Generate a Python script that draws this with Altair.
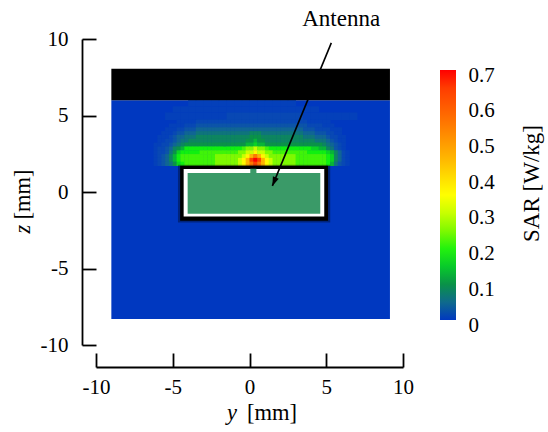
import altair as alt
import pandas as pd

# ---------------- data ----------------
Y_TICKS = [-10, -5, 0, 5, 10]
Z_TICKS = [-10, -5, 0, 5, 10]
SAR_TICKS = [0, 0.1, 0.2, 0.3, 0.4, 0.5, 0.6, 0.7]
SAR_RANGE = [0, 0.7]

SAR_STOPS = [0.0, 0.02, 0.04, 0.07, 0.10, 0.14, 0.19, 0.24, 0.30, 0.35,
             0.45, 0.55, 0.65, 0.672, 0.68, 0.70]
SAR_COLORS = ["#0038c0", "#0848b4", "#10609c", "#0e7e6c", "#0a9248", "#06c030",
              "#10f010", "#70f800", "#c8ff00", "#ffff00", "#ffb800", "#ff7800",
              "#ff3c00", "#ff3000", "#ff0000", "#ff0000"]

LEVEL_CODES = "0123456789abcdefghi"
LEVEL_VALUES = [0.0, 0.01, 0.02, 0.03, 0.045, 0.06, 0.08, 0.10, 0.13, 0.16,
                0.19, 0.215, 0.25, 0.30, 0.36, 0.46, 0.55, 0.64, 0.70]

FIELD_Y = [-9.0, 9.15]
FIELD_Z = [-8.3, 6.0]
FIELD_SAR = 0.0

# coarse haze just under the dark layer (0.5 mm columns from y = -9)
HALO_Y_START = -9.0
HALO_STEP_Y = 0.5
HALO_Z_EDGES = [6.0, 5.6, 5.2, 4.7]
HALO_ROWS = [
    "0000000000" "11" "1111111111" "11" "000000000000",
    "00000000" "111" "1111111111111" "111" "000000000",
    "0000000" "1111" "1111" "2222222222" "1111" "111" "0000",
]

# fine grid of the hot band (0.25 mm cells from y = -6.5, z = 1.7 upward)
FINE_Y_START = -6.5
FINE_STEP_Y = 0.25
FINE_Z_START = 1.7
FINE_STEP_Z = 0.25
CELL_OVERLAP = 0.03
FINE_ROWS = [  # top row first
    "000000" "0111" "11222222" "2222222222222222222" "22221111" "1100" "00000",
    "000001" "1112" "22333333" "3333333333333333333" "33332222" "1110" "00000",
    "000011" "1223" "33444444" "4444444444444444444" "44433322" "2211" "10000",
    "000111" "2334" "44555555" "5555555566655555555" "55544433" "3221" "10000",
    "001112" "3445" "55666666" "6666666677766666666" "66655544" "4322" "11000",
    "001122" "3455" "66666666" "6666666778776666666" "66666655" "5432" "11000",
    "011223" "4567" "77777777" "777777788988777777 ".strip() + "7" "77777777" "6543" "21000",
    "012234" "678a" "aaaaaaaa" "aaaaaabccdccbaaaaaa" "aaaaa998" "8653" "21000",
    "012235" "79aa" "aaabbbbb" "bbbbbccddeddccbbbbb" "bbbbaaaa" "a986" "42100",
    "012346" "8abb" "bbbbbbbc" "ccccccdefgfedcccccc" "cbbbbbbb" "ba96" "42100",
    "012346" "8abb" "bbbbbbbc" "cccccdefhihfedccccc" "cbbbbbbb" "ba96" "42100",
    "012345" "79ab" "bbbbbbbc" "cccccdefghgfedccccc" "cbbbbbbb" "ba85" "32100",
]

# geometry of the black layer and the antenna (mm)
SHAPE_NAMES = ["skin", "shadow", "outer", "white", "fill", "feed"]
SHAPE_Y0 = [-9.0, -4.66, -4.52, -4.29, -4.03, 0.05]
SHAPE_Y1 = [9.15, 5.26, 5.12, 4.87, 4.61, 0.45]
SHAPE_Z0 = [6.0, -2.0, -1.88, -1.60, -1.42, 1.20]
SHAPE_Z1 = [8.05, 1.78, 1.71, 1.50, 1.24, 1.52]
SHAPE_COLORS = ["#000000", "#000000", "#000000", "#ffffff", "#3a9a68", "#3a9a68"]
SHAPE_OPACITY = [1.0, 0.35, 1.0, 1.0, 1.0, 1.0]

ARROW_Y = [5.33, 1.49]
ARROW_Z = [9.75, 0.40]
ANNOT_TEXT = ["Antenna"]
ANNOT_Y = [5.97]
ANNOT_Z = [10.82]

# ---------------- tables ----------------
def code_value(ch):
    return LEVEL_VALUES[LEVEL_CODES.index(ch)]


cells = [dict(ya=FIELD_Y[0], yb=FIELD_Y[1], za=FIELD_Z[0], zb=FIELD_Z[1], sar=FIELD_SAR)]
for r, line in enumerate(HALO_ROWS):
    z_top, z_bot = HALO_Z_EDGES[r], HALO_Z_EDGES[r + 1]
    for c, ch in enumerate(line):
        if ch == "0":
            continue
        y0 = HALO_Y_START + HALO_STEP_Y * c
        cells.append(dict(ya=y0, yb=y0 + HALO_STEP_Y + CELL_OVERLAP, za=z_bot,
                          zb=z_top, sar=code_value(ch)))
n_fine = len(FINE_ROWS)
for r, line in enumerate(FINE_ROWS):
    z_bot = FINE_Z_START + FINE_STEP_Z * (n_fine - 1 - r)
    for c, ch in enumerate(line):
        if ch == "0":
            continue
        y0 = FINE_Y_START + FINE_STEP_Y * c
        cells.append(dict(ya=y0, yb=y0 + FINE_STEP_Y + CELL_OVERLAP, za=z_bot,
                          zb=z_bot + FINE_STEP_Z + CELL_OVERLAP, sar=code_value(ch)))
field_df = pd.DataFrame(cells)

shapes_df = pd.DataFrame(dict(name=SHAPE_NAMES, ya=SHAPE_Y0, yb=SHAPE_Y1, za=SHAPE_Z0,
                              zb=SHAPE_Z1, col=SHAPE_COLORS, op=SHAPE_OPACITY))
arrow_df = pd.DataFrame(dict(ya=[ARROW_Y[0]], yb=[ARROW_Y[1]], za=[ARROW_Z[0]], zb=[ARROW_Z[1]]))
annot_df = pd.DataFrame(dict(t=ANNOT_TEXT, ya=ANNOT_Y, za=ANNOT_Z))
cbar_df = pd.DataFrame(dict(v=SAR_TICKS))

# ---------------- chart ----------------
FONT = "'Liberation Serif', 'Times New Roman', serif"
FS = 21
TITLE_FS = 22.5
x_scale = alt.Scale(domain=[-10, 10], nice=False, zero=False)
z_scale = alt.Scale(domain=[-10, 10], nice=False, zero=False)

x_axis = alt.Axis(values=Y_TICKS, offset=22, tickSize=alt.ExprRef(expr="-14"),
                  labelPadding=23, labelFlush=False, grid=False, title=None,
                  domainColor="black", tickColor="black", domainWidth=1.8, tickWidth=1.8,
                  labelFont=FONT, labelFontSize=FS, labelColor="black",
                  labelExpr="'' + datum.value")
z_axis = alt.Axis(values=Z_TICKS, offset=14, tickSize=alt.ExprRef(expr="-14"),
                  labelPadding=28, labelFlush=False, grid=False, title=None,
                  domainColor="black", tickColor="black", domainWidth=1.8, tickWidth=1.8,
                  labelFont=FONT, labelFontSize=FS, labelColor="black",
                  labelExpr="'' + datum.value")


def X(field):
    return alt.X(field, scale=x_scale, axis=x_axis, title=None)


def Z(field):
    return alt.Y(field, scale=z_scale, axis=z_axis, title=None)


heat = alt.Chart(field_df).mark_rect(strokeWidth=0).encode(
    x=X("ya:Q"), x2="yb:Q", y=Z("za:Q"), y2="zb:Q",
    color=alt.Color("sar:Q",
                    scale=alt.Scale(domain=SAR_STOPS, range=SAR_COLORS, interpolate="rgb"),
                    legend=alt.Legend(
                        type="gradient", orient="none", legendX=344, legendY=31,
                        direction="vertical", gradientLength=250, gradientThickness=16,
                        gradientStrokeWidth=0, values=SAR_TICKS, title=None,
                        labelExpr="''", labelOpacity=0, labelFontSize=1)),
)

shapes = alt.Chart(shapes_df).mark_rect(strokeWidth=0).encode(
    x=X("ya:Q"), x2="yb:Q", y=Z("za:Q"), y2="zb:Q",
    color=alt.Color("col:N", scale=None),
    opacity=alt.Opacity("op:Q", scale=None),
)

arrow_line = alt.Chart(arrow_df).mark_rule(color="black", strokeWidth=1.6).encode(
    x=X("ya:Q"), x2="yb:Q", y=Z("za:Q"), y2="zb:Q",
)
arrow_head = alt.Chart(arrow_df).mark_point(
    shape="M0,0L-0.35,-1L0.35,-1Z", filled=True, color="black", opacity=1,
    size=324, angle=22.4, strokeWidth=0).encode(
    x=X("yb:Q"), y=Z("zb:Q"),
)

annot = alt.Chart(annot_df).mark_text(font=FONT, fontSize=23, color="black",
                                       align="center", baseline="alphabetic").encode(
    x=X("ya:Q"), y=Z("za:Q"), text="t:N",
)

title_df = pd.DataFrame(dict(a=[1]))


def label(text, x, y, angle=0, italic=False, align="left", baseline="alphabetic",
          size=TITLE_FS):
    kw = dict(font=FONT, fontSize=size, color="black", align=align, baseline=baseline,
              text=text)
    if angle:
        kw["angle"] = angle
    if italic:
        kw["fontStyle"] = "italic"
    return alt.Chart(title_df).mark_text(**kw).encode(x=alt.value(x), y=alt.value(y))


titles = [
    label("y", 131, 381, italic=True),
    label("[mm]", 151, 381),
    label("z", -66, 194.5, angle=270, italic=True),
    label("[mm]", -66, 180.5, angle=270),
    label("SAR [W/kg]", 436, 144.5, angle=270, align="center", baseline="middle",
          size=23),
]

main = alt.layer(heat, shapes, arrow_line, arrow_head, annot, *titles)

# colour-bar tick labels, carried by an axis whose scale spans the gradient
cbar_labels = alt.Chart(cbar_df).mark_point(opacity=0, size=1).encode(
    x=alt.value(0),
    y=alt.Y("v:Q", title=None,
            scale=alt.Scale(domain=SAR_RANGE, range=[281, 31], nice=False, zero=False),
            axis=alt.Axis(orient="right", offset=53, values=SAR_TICKS, domain=False,
                          ticks=False, grid=False, labelPadding=12, labelOffset=5,
                          labelFlush=False, labelAlign="left", labelBaseline="middle",
                          labelFont=FONT, labelFontSize=FS, labelColor="black",
                          labelExpr="'' + datum.value", title=None)),
)

chart = alt.layer(main, cbar_labels).resolve_scale(y="independent").properties(
    width=307, height=306,
    autosize=alt.AutoSizeParams(type="none"),
    padding={"left": 96, "top": 39, "right": 145, "bottom": 87},
).configure(background="white", font=FONT).configure_view(stroke=None)

chart.save("out.html", embed_options={"renderer": "svg", "actions": False})
